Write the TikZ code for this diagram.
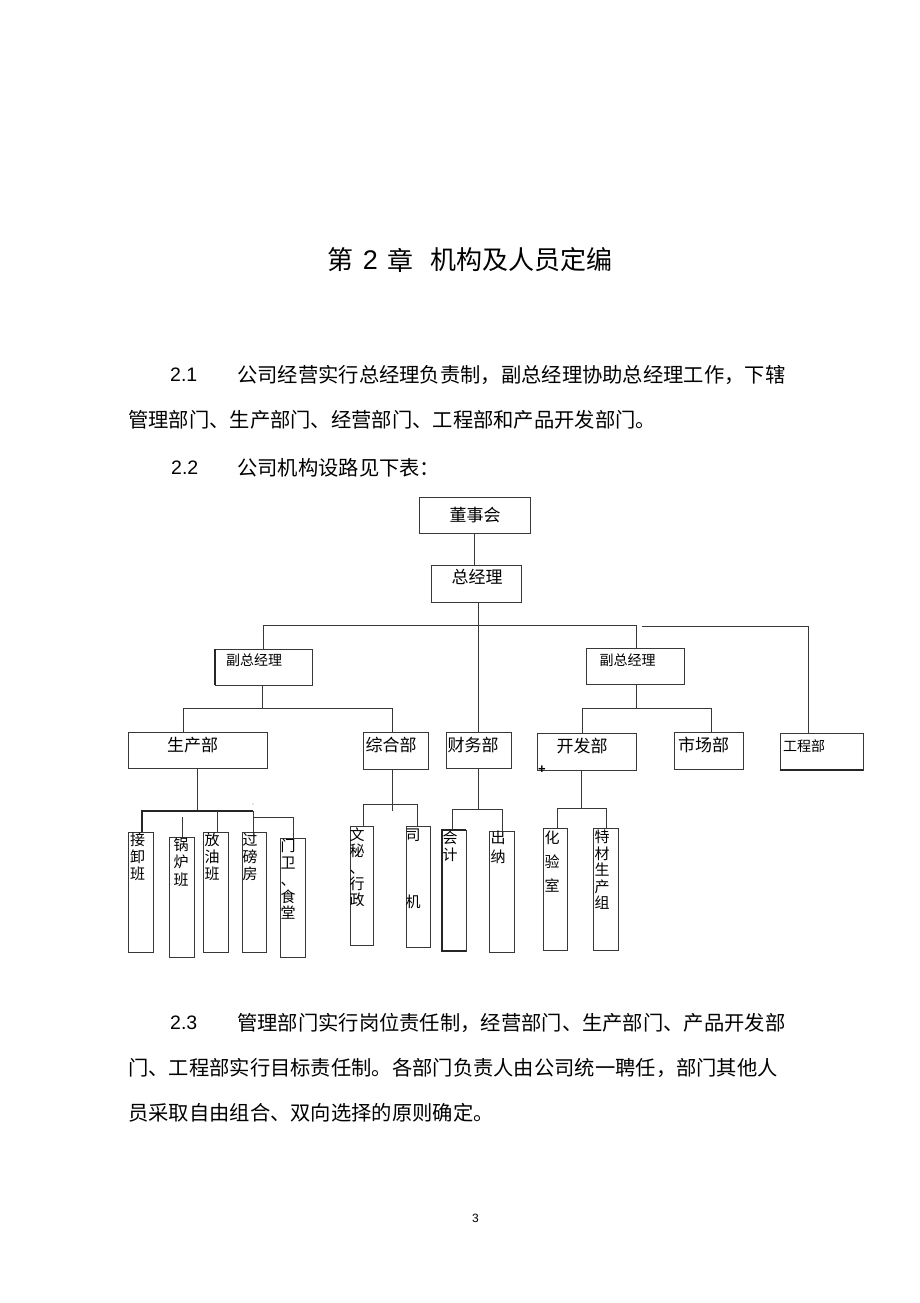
\documentclass[tikz,border=0pt]{standalone}
\usepackage{fontspec}
\setmainfont{Liberation Sans}
\newfontfamily\cjk{Noto Sans CJK SC}
\begin{document}
\begin{tikzpicture}[x=1pt,y=-1pt,
  ln/.style={line width=1pt, draw=black!78},
  lnthick/.style={line width=1.8pt, draw=black!85},
  bx/.style={draw=black!78, line width=1pt, inner sep=0pt, outer sep=0pt, anchor=center},
  lbl/.style={inner sep=0pt, anchor=center, font=\cjk\fontsize{17}{17}\selectfont},
  lbls/.style={inner sep=0pt, anchor=center, font=\cjk\fontsize{14}{14}\selectfont},
  vt/.style={inner sep=0pt, anchor=center, align=center, font=\cjk\fontsize{15}{#1}\selectfont},
  vt/.default=17,
  body/.style={inner sep=0pt, anchor=west, font=\cjk\fontsize{20.3}{24}\selectfont},
  num/.style={inner sep=0pt, anchor=west, font=\fontsize{19.5}{22}\selectfont},
  ttl/.style={inner sep=0pt, anchor=west, font=\cjk\fontsize{26}{30}\selectfont}
]
\useasboundingbox (0,0) rectangle (920,1303);
\fill[white] (0,0) rectangle (920,1303);

% ---------- title ----------
\node[ttl] (t1) at (327,260) {第};
\node[inner sep=0pt, anchor=center, font=\fontsize{27}{30}\selectfont] (t2) at (370.5,260) {2};
\node[ttl] (t3) at (387,260) {章};
\node[ttl] (t4) at (430,260) {机构及人员定编};

% ---------- paragraphs ----------
\node[num] (n1) at (170,375) {2.1};
\node[body] (p1a) at (237,375) {公司经营实行总经理负责制，副总经理协助总经理工作，下辖};
\node[body] (p1b) at (128,420) {管理部门、生产部门、经营部门、工程部和产品开发部门。};
\node[num] (n2) at (171,468) {2.2};
\node[body] (p2) at (237,468) {公司机构设路见下表：};

\node[num] (n3) at (170,1023) {2.3};
\node[body] (p3a) at (237,1023) {管理部门实行岗位责任制，经营部门、生产部门、产品开发部};
\node[body] (p3b) at (128,1068) {门、工程部实行目标责任制。各部门负责人由公司统一聘任，部门其他人};
\node[body] (p3c) at (128,1113) {员采取自由组合、双向选择的原则确定。};

\node[inner sep=0pt, font=\fontsize{12}{12}\selectfont] (pg) at (475.5,1218) {3};

% ---------- boxes ----------
\node[bx, minimum width=111pt, minimum height=36pt] (dsh) at (474.5,515) {};
\node[bx, minimum width=90pt, minimum height=37pt] (zjl) at (476,583.5) {};
\node[bx, minimum width=97pt, minimum height=36pt] (fz1) at (263.5,667) {};
\node[bx, minimum width=98pt, minimum height=36pt] (fz2) at (635,666) {};
\node[bx, minimum width=139pt, minimum height=36pt] (scb) at (197.5,750) {};
\node[bx, minimum width=65pt, minimum height=37pt] (zhb) at (395.5,750.5) {};
\node[bx, minimum width=65pt, minimum height=36pt] (cwb) at (478.5,750) {};
\node[bx, minimum width=99pt, minimum height=37pt] (kfb) at (586.5,751.5) {};
\node[bx, minimum width=69pt, minimum height=37pt] (mcb) at (708.5,750.5) {};
\node[bx, minimum width=83pt, minimum height=37pt] (gcb) at (821.5,751.5) {};

\node[bx, minimum width=25pt, minimum height=120pt] (jx) at (140.5,892) {};
\node[bx, minimum width=25pt, minimum height=120pt] (gl) at (181.5,897) {};
\node[bx, minimum width=25pt, minimum height=120pt] (fy) at (215.5,892) {};
\node[bx, minimum width=24pt, minimum height=120pt] (gb) at (254,892) {};
\node[bx, minimum width=25pt, minimum height=119pt] (mw) at (292.5,897.5) {};
\node[bx, minimum width=23pt, minimum height=119pt] (wm) at (361.5,885.5) {};
\node[bx, minimum width=24pt, minimum height=121pt] (sj) at (418,886.5) {};
\node[bx, minimum width=24pt, minimum height=121pt] (kj) at (454,890.5) {};
\node[bx, minimum width=25pt, minimum height=121pt] (cn) at (501.5,891.5) {};
\node[bx, minimum width=24pt, minimum height=122pt] (hys) at (555,889) {};
\node[bx, minimum width=25pt, minimum height=122pt] (tc) at (605.5,889) {};

% thicker edges
\draw[lnthick] (fz1.north west) -- (fz1.south west);
\draw[lnthick] (gcb.south west) -- (gcb.south east);
\draw[lnthick] (kj.north east) -- (kj.north west) -- (kj.south west) -- (kj.south east);

% ---------- labels ----------
\node[lbl] (l-dsh) at (475,515) {董事会};
\node[lbl] (l-zjl) at (477,577) {总经理};
\node[lbls] (l-fz1) at (254,660) {副总经理};
\node[lbls] (l-fz2) at (627.5,660) {副总经理};
\node[lbl] (l-scb) at (192.5,745) {生产部};
\node[lbl] (l-zhb) at (391,745) {综合部};
\node[lbl] (l-cwb) at (473,745) {财务部};
\node[lbl] (l-kfb) at (582,746) {开发部};
\node[lbl] (l-mcb) at (703.5,745) {市场部};
\node[lbls] (l-gcb) at (804,746) {工程部};

\node[vt] (l-jx) at (137.5,857) {接\\卸\\班};
\node[vt=17.5] (l-gl) at (181,862) {锅\\炉\\班};
\node[vt] (l-fy) at (212,857) {放\\油\\班};
\node[vt] (l-gb) at (250,857) {过\\磅\\房};
\node[vt=16.75] (l-mw) at (288,879.5) {门\\卫\\、\\食\\堂};
\node[vt=16.25] (l-wm) at (357,867.5) {文\\秘\\、\\行\\政};
\node[vt=17] (l-sj) at (413,868.5) {司\\[50pt]机};
\node[vt] (l-kj) at (450,846.5) {会\\计};
\node[vt=19] (l-cn) at (498,847.5) {出\\纳};
\node[vt=24] (l-hys) at (552,862) {化\\验\\室};
\node[vt=16.5] (l-tc) at (602,870) {特\\材\\生\\产\\组};

\node[inner sep=0pt, font=\bfseries\fontsize{13}{13}\selectfont] (plus) at (542,770) {+};

% ---------- connectors ----------
\coordinate (yA) at (0,625);
\coordinate (yB) at (0,708);
\coordinate (yC) at (0,811);
\coordinate (yD) at (0,817);
\coordinate (yE) at (0,804);
\coordinate (yF) at (0,809);
\coordinate (yG) at (0,808);
\coordinate (h2s) at (642,626);

\draw[ln] (dsh.south) -- (dsh.south |- zjl.north);
\draw[ln] (cwb.north |- zjl.south) -- (cwb.north);
\draw[ln] (fz1.north) -- (fz1.north |- yA) -- ([xshift=1.5pt]fz2.north |- yA) -- ([xshift=1.5pt]fz2.north);
\draw[ln] (h2s) -| ([xshift=-13.5pt]gcb.north);

\draw[ln] ([xshift=-1.5pt]fz1.south) -- ([xshift=-1.5pt]fz1.south |- yB);
\draw[ln] ([xshift=-14.5pt]scb.north) -- ([xshift=-14.5pt]scb.north |- yB) -- ([xshift=-3.5pt]zhb.north |- yB) -- ([xshift=-3.5pt]zhb.north);
\draw[ln] ([xshift=1.5pt]fz2.south) -- ([xshift=1.5pt]fz2.south |- yB);
\draw[ln] ([xshift=-4.5pt]kfb.north) -- ([xshift=-4.5pt]kfb.north |- yB) -- ([xshift=2.5pt]mcb.north |- yB) -- ([xshift=2.5pt]mcb.north);

% production dept
\draw[ln] (scb.south) -- (scb.south |- yC);
\draw[lnthick] ([xshift=1.5pt]jx.north) -- ([xshift=1.5pt]jx.north |- yC) -- ([xshift=-1pt]gb.north |- yC);
\draw[ln] ([xshift=1.5pt]fy.north |- yC) -- ([xshift=1.5pt]fy.north);
\draw[ln] ([xshift=-1pt]gb.north |- yC) -- ([xshift=-1pt]gb.north);
\draw[ln] ([xshift=-1pt]gb.north |- yD) -- ([xshift=0.5pt]mw.north |- yD) -- ([xshift=0.5pt]mw.north);
\draw[ln] ([xshift=0.5pt]gl.north |- yD) -- ([xshift=0.5pt]gl.north);
\coordinate (dot) at (253,804);
\fill[black!45] (dot) circle (0.7);

% general dept
\draw[ln] ([xshift=-3.5pt]zhb.south) -- ([xshift=-3.5pt]zhb.south |- yC);
\draw[ln] ([xshift=1.5pt]wm.north) -- ([xshift=1.5pt]wm.north |- yE) -- ([xshift=-1pt]sj.north |- yE) -- ([xshift=-1pt]sj.north);

% finance
\draw[ln] (cwb.south) -- (cwb.south |- yF);
\draw[ln] ([xshift=-2pt]kj.north) -- ([xshift=-2pt]kj.north |- yF) -- ([xshift=0.5pt]cn.north |- yF) -- ([xshift=0.5pt]cn.north);

% development
\draw[ln] ([xshift=-5.5pt]kfb.south) -- ([xshift=-5.5pt]kfb.south |- yG);
\draw[ln] ([xshift=2pt]hys.north) -- ([xshift=2pt]hys.north |- yG) -- ([xshift=0.5pt]tc.north |- yG) -- ([xshift=0.5pt]tc.north);
\end{tikzpicture}
\end{document}
